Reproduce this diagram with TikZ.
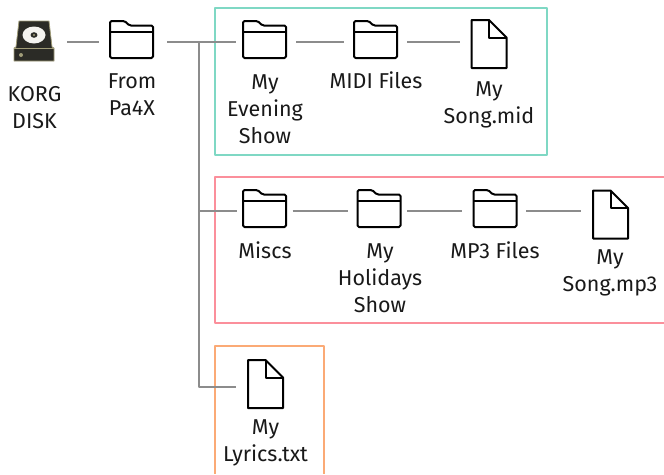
\documentclass[tikz,border=0pt]{standalone}
\usepackage{fontspec}
\setmainfont{Fira Sans}
\definecolor{boxgreen}{HTML}{7FD8C4}
\definecolor{boxred}{HTML}{FB8F9B}
\definecolor{boxorange}{HTML}{FBAA76}
\definecolor{linkgray}{HTML}{8C8C8C}
\definecolor{diskdark}{HTML}{2B2B26}
\definecolor{diskedge}{HTML}{A09C78}
\tikzset{
	iconbox/.style={inner sep=0pt, outer sep=0pt, minimum height=10pt},
	txt/.style={align=center, font=\fontsize{21.5}{27}\selectfont, text=black!90, inner sep=0pt},
	link/.style={draw=linkgray, line width=2.2pt},
	frame/.style={line width=2pt},
	folderpic/.pic={
		\draw[line width=2pt, line join=round, rounded corners=1.5pt] (-21.5,18) -- (-21.5,-19) -- (-7,-19) -- (-2,-14.5) -- (21.5,-14.5) -- (21.5,18) -- cycle;
		\draw[line width=2pt] (-21.5,-8) -- (21.5,-8);
	},
	filepic/.pic={
		\draw[line width=2pt, line join=round] (-17.5,24) -- (-17.5,-24) -- (0,-24) -- (17.5,-6.5) -- (17.5,24) -- cycle;
		\draw[line width=2pt, line join=round] (0,-24) -- (0,-6.5) -- (17.5,-6.5);
	},
	diskpic/.pic={
		\fill[diskdark, draw=diskedge, line width=0.8pt] (-15,-20) -- (15,-20) -- (18,6) -- (20,7) -- (20,20) -- (-20,20) -- (-20,7) -- (-18,6) -- cycle;
		\draw[diskedge, line width=0.8pt] (-20,7) -- (20,7);
		\fill[white!88!diskedge] (0,-6) ellipse (11.5 and 8.5);
		\fill[diskdark] (0,-6) ellipse (3.5 and 2.8);
		\fill[diskedge] (0,-6) circle (1.2);
		\fill[diskedge] (-13,14) circle (2);
	},
}
\begin{document}
\begin{tikzpicture}[x=1pt, y=-1pt, line join=round]
	\useasboundingbox (0,0) rectangle (664,474);
	% colour frames
	\draw[frame, boxgreen] (215,8) rectangle (547,155);
	\draw[frame, boxred] (664,177) -- (214.5,177) -- (214.5,323) -- (664,323);
	\draw[frame, boxorange] (214.5,474) -- (214.5,346) -- (324,346) -- (324,474);
	% icons
	\node[iconbox, minimum width=40pt] (disk) at (34,42) {};
	\node[iconbox, minimum width=43pt] (pa) at (131.5,42) {};
	\node[iconbox, minimum width=43pt] (evening) at (264.5,42) {};
	\node[iconbox, minimum width=43pt] (midi) at (375.5,42) {};
	\node[iconbox, minimum width=35pt] (songmid) at (489,42) {};
	\node[iconbox, minimum width=44pt] (miscs) at (264.5,211) {};
	\node[iconbox, minimum width=44pt] (holidays) at (379,211) {};
	\node[iconbox, minimum width=44pt] (mpfiles) at (495,211) {};
	\node[iconbox, minimum width=35pt] (songmp) at (610.5,211) {};
	\node[iconbox, minimum width=35pt] (lyrics) at (265.5,387) {};
	\pic at (34,41) {diskpic};
	\pic at (131.5,40) {folderpic};
	\pic at (264.5,40) {folderpic};
	\pic at (375.5,40) {folderpic};
	\pic at (489,44) {filepic};
	\pic at (264.5,209) {folderpic};
	\pic at (379,209) {folderpic};
	\pic at (495,209) {folderpic};
	\pic at (610.5,214.5) {filepic};
	\pic at (265.5,384) {filepic};
	% connectors
	\coordinate (trunk) at (199,42);
	\draw[link, shorten <=13pt, shorten >=11pt] (disk) -- (pa);
	\draw[link, shorten <=14pt, shorten >=7pt] (pa) -- (evening);
	\draw[link, shorten <=10pt, shorten >=10pt] (evening) -- (midi);
	\draw[link, shorten <=10pt, shorten >=12pt] (midi) -- (songmid);
	\draw[link] (trunk) -- (trunk |- lyrics) -- ([xshift=-12pt]lyrics.west);
	\draw[link, shorten >=6pt] (trunk |- miscs) -- (miscs);
	\draw[link, shorten <=6pt, shorten >=9pt] (miscs) -- (holidays);
	\draw[link, shorten <=6pt, shorten >=11pt] (holidays) -- (mpfiles);
	\draw[link, shorten <=9pt, shorten >=12pt] (mpfiles) -- (songmp);
	% labels
	\node[txt] (disklabel) at (34.5,108) {KORG\\DISK};
	\node[txt] (palabel) at (132,94.5) {From\\Pa4X};
	\node[txt] (eveninglabel) at (265,109) {My\\Evening\\Show};
	\node[txt] (midilabel) at (376,80.5) {MIDI Files};
	\node[txt] (songmidlabel) at (489,104.5) {My\\Song.mid};
	\node[txt] (miscslabel) at (265,250.5) {Miscs};
	\node[txt] (holidayslabel) at (380,278) {My\\Holidays\\Show};
	\node[txt] (mpfileslabel) at (495,250.5) {MP3 Files};
	\node[txt] (songmplabel) at (610,273) {My\\Song.mp3};
	\node[txt] (lyricslabel) at (265.5,443) {My\\Lyrics.txt};
\end{tikzpicture}
\end{document}
